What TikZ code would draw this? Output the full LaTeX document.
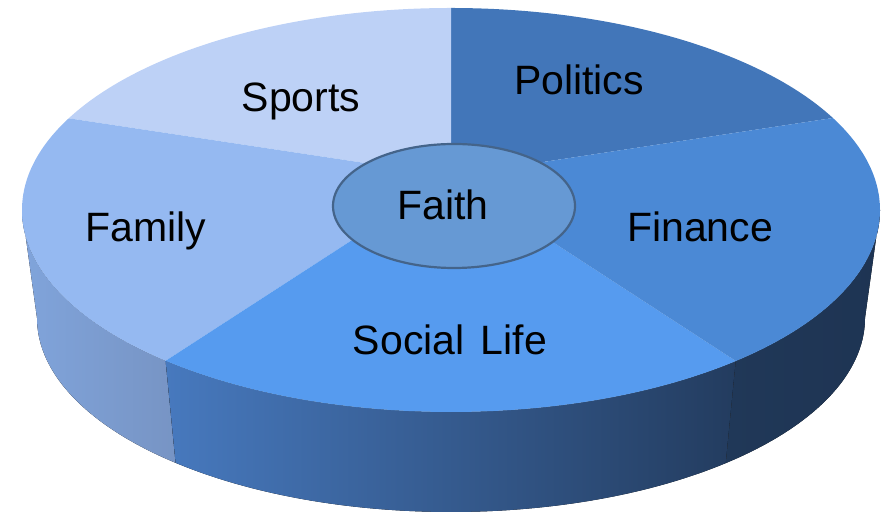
\documentclass[tikz,border=0pt]{standalone}
\usepackage{fontspec}
\setmainfont{Liberation Sans}
\usetikzlibrary{calc,shapes.geometric}
\definecolor{cSports}{HTML}{BDD1F6}
\definecolor{cPolitics}{HTML}{4276B9}
\definecolor{cFinance}{HTML}{4B89D5}
\definecolor{cSocial}{HTML}{569BEF}
\definecolor{cFamily}{HTML}{95B9F1}
\definecolor{cFaith}{HTML}{6699D4}
\definecolor{cFaithLine}{HTML}{44648A}
\definecolor{sFamL}{HTML}{80A4DB}
\definecolor{sFamR}{HTML}{7794C4}
\definecolor{sSocL}{HTML}{4779BE}
\definecolor{sSocR}{HTML}{233C5F}
\definecolor{sFinL}{HTML}{203858}
\definecolor{sFinR}{HTML}{1E3453}
\begin{document}
\begin{tikzpicture}[x=1pt,y=1pt,
  lbl/.style={font=\fontsize{41}{48}\selectfont, text=black, anchor=base, inner sep=0pt},
  topr/.style={x radius=429pt,y radius=202pt},
  botr/.style={x radius=414pt,y radius=194pt},
]
\useasboundingbox (0,0) rectangle (885,513);
\coordinate (T) at (451,303);
\coordinate (B) at (451,195);
\coordinate (A) at (451,337);
% side walls
\fill[left color=sFamL, right color=sFamR]
  ($(T)+(180:429pt and 202pt)$) arc[topr,start angle=180,end angle=228.3]
  -- ($(B)+(228.3:414pt and 194pt)$) arc[botr,start angle=228.3,end angle=180] -- cycle;
\fill[left color=sSocL, right color=sSocR]
  ($(T)+(228.3:429pt and 202pt)$) arc[topr,start angle=228.3,end angle=311.6]
  -- ($(B)+(311.6:414pt and 194pt)$) arc[botr,start angle=311.6,end angle=228.3] -- cycle;
\fill[left color=sFinL, right color=sFinR]
  ($(T)+(311.6:429pt and 202pt)$) arc[topr,start angle=311.6,end angle=360]
  -- ($(B)+(360:414pt and 194pt)$) arc[botr,start angle=360,end angle=311.6] -- cycle;
% top slices
\fill[cPolitics] (A) -- ($(T)+(27.1:429pt and 202pt)$) arc[topr,start angle=27.1,end angle=90] -- cycle;
\fill[cSports] (A) -- ($(T)+(90:429pt and 202pt)$) arc[topr,start angle=90,end angle=153] -- cycle;
\fill[cFamily] (A) -- ($(T)+(153:429pt and 202pt)$) arc[topr,start angle=153,end angle=228.3] -- cycle;
\fill[cSocial] (A) -- ($(T)+(228.3:429pt and 202pt)$) arc[topr,start angle=228.3,end angle=311.6] -- cycle;
\fill[cFinance] (A) -- ($(T)+(311.6:429pt and 202pt)$) arc[topr,start angle=311.6,end angle=387.1] -- cycle;
% centre
\node[ellipse, minimum width=242pt, minimum height=124pt, inner sep=0pt,
      draw=cFaithLine, line width=2.2pt, fill=cFaith] (faith) at (454,307) {};
\node[lbl] (faithlbl) at (443,293) {Faith};
\node[lbl] (sports) at (301,401) {Sports};
\node[lbl] (politics) at (579,418) {Politics};
\node[lbl] (finance) at (700,271) {Finance};
\node[lbl] (family) at (146,271) {Family};
\node[lbl] (social) at (450,158) {Social\hspace{0.4em}Life};
\end{tikzpicture}
\end{document}
